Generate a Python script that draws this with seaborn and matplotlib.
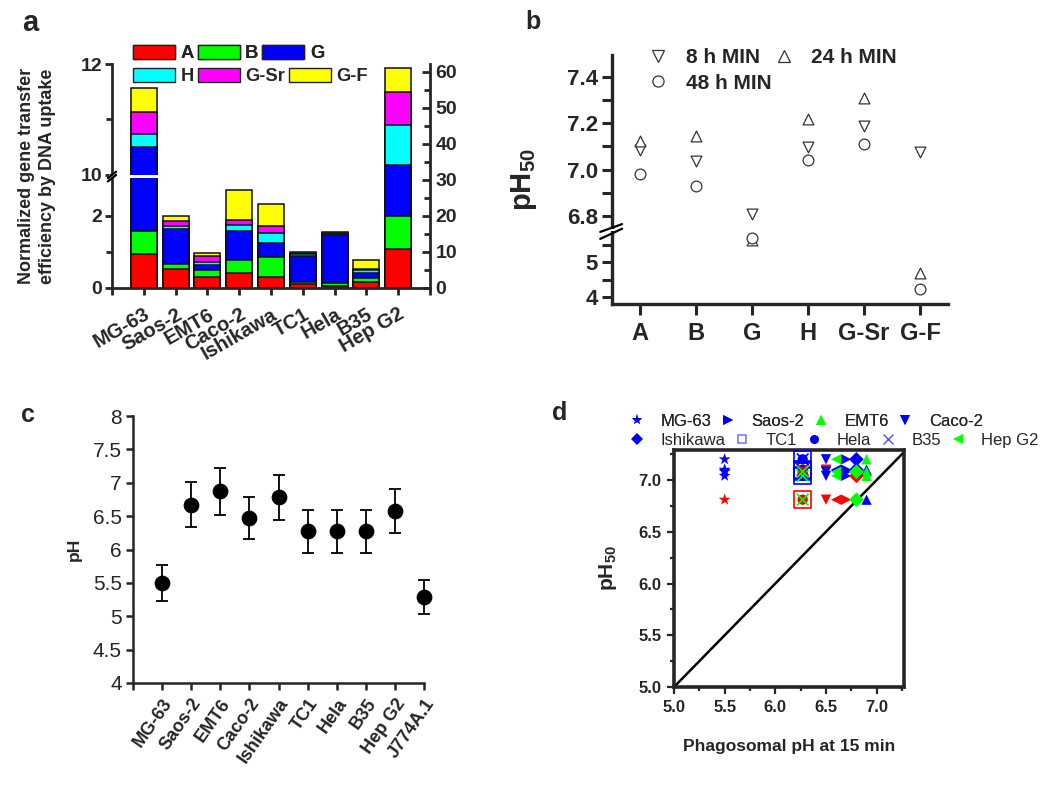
import numpy as np
import pandas as pd
import matplotlib
matplotlib.use('Agg')
import matplotlib.pyplot as plt
import seaborn as sns
from matplotlib.patches import Patch
from matplotlib.lines import Line2D
from matplotlib.ticker import MultipleLocator, FormatStrFormatter, FixedLocator

sns.set_style('ticks')
plt.rcParams['font.family'] = ['Liberation Sans', 'DejaVu Sans']
plt.rcParams['mathtext.fontset'] = 'custom'
plt.rcParams['mathtext.rm'] = 'Liberation Sans'
plt.rcParams['mathtext.bf'] = 'Liberation Sans:bold'

# ---------------- data ----------------
# panel a (segment heights, right-axis units)
cells_a = ['MG-63', 'Saos-2', 'EMT6', 'Caco-2', 'Ishikawa', 'TC1', 'Hela', 'B35', 'Hep G2']
particles = ['A', 'B', 'G', 'H', 'G-Sr', 'G-F']
seg_A = [9.4, 5.4, 3.0, 4.2, 3.0, 1.2, 0.65, 1.75, 10.9]
seg_B = [6.3, 1.2, 1.9, 3.6, 5.5, 0.55, 0.65, 0.95, 9.0]
seg_G = [23.4, 9.8, 1.4, 7.9, 4.1, 7.15, 13.3, 1.5, 14.3]
seg_H = [3.6, 0.7, 0.9, 1.7, 2.6, 0.5, 0.3, 0.8, 11.2]
seg_GSr = [6.1, 1.5, 1.7, 1.6, 1.9, 0.3, 0.3, 0.4, 8.9]
seg_GF = [6.6, 1.4, 0.7, 8.1, 6.3, 0.2, 0.3, 2.4, 6.9]
bar_colors = ['#ff0000', '#00ff00', '#0000ff', '#00ffff', '#ff00ff', '#ffff00']
left_tick_labels = ['0', '', '2', '10', '', '12']

# panel b
ph50_8h = [7.086, 7.036, 6.81, 7.097, 7.19, 7.076]
ph50_24h = [7.124, 7.146, 5.625, 7.22, 7.31, 4.68]
ph50_48h = [6.98, 6.93, 5.69, 7.04, 7.11, 4.22]
b_tick_vals = [4, 5, 6.8, 7.0, 7.2, 7.4]
b_tick_labels = ['4', '5', '6.8', '7.0', '7.2', '7.4']

# panel c
cells_c = ['MG-63', 'Saos-2', 'EMT6', 'Caco-2', 'Ishikawa', 'TC1', 'Hela', 'B35', 'Hep G2', 'J774A.1']
ph_c = [5.50, 6.67, 6.87, 6.47, 6.78, 6.27, 6.27, 6.27, 6.58, 5.29]
err_c = [0.27, 0.34, 0.35, 0.32, 0.34, 0.32, 0.32, 0.32, 0.33, 0.26]

# panel d
cells_d = ['MG-63', 'Saos-2', 'EMT6', 'Caco-2', 'Ishikawa', 'TC1', 'Hela', 'B35', 'Hep G2']
phago_d = [5.5, 6.7, 6.9, 6.5, 6.8, 6.27, 6.27, 6.27, 6.6]
ph50_d = [7.09, 7.04, 6.81, 7.10, 7.20, 7.08]   # A, B, G, H, G-Sr, G-F
color_codes_d = {
    'MG-63': 'bbrbbb', 'Saos-2': 'bbrbbb', 'EMT6': 'bgbbgg', 'Caco-2': 'bbrrbb',
    'Ishikawa': 'rrgbbg', 'TC1': 'bbrbbb', 'Hela': 'bbrbbb', 'B35': 'rggrbg',
    'Hep G2': 'bgrbgg'}
legend_colors_d = ['#0000ff', '#0000ff', '#00ff00', '#0000ff', '#0000ff', '#7a7aff', '#0000ff', '#5050ff', '#00ff00']
markers_d = ['*', '>', '^', 'v', 'D', 's', 'o', 'x', '<']
cmap_d = {'b': '#0000ff', 'r': '#ff0000', 'g': '#00ff00'}

W, H = 1050, 794
fig = plt.figure(figsize=(W / 100, H / 100), dpi=100)


def box(l, t, r, b):
    return [l / W, 1 - b / H, (r - l) / W, (b - t) / H]


def fp(x, y):
    return (x / W, 1 - y / H)


# ================= panel a =================
ax_a = fig.add_axes(box(112, 64, 430, 288))
segs = np.array([seg_A, seg_B, seg_G, seg_H, seg_GSr, seg_GF])
cum = np.cumsum(segs, axis=0)
for j in reversed(range(len(particles))):
    sns.barplot(x=cells_a, y=cum[j], color=bar_colors[j], saturation=1,
                edgecolor='#111111', linewidth=1.1, width=0.82, ax=ax_a, zorder=2)
ax_a.set_xlim(-1, 9)
top_a = 62.2
ax_a.set_ylim(0, top_a)
left_tick_pos = [0, 10, 20, 31.4, 46.8, 62.2]
ax_a.set_yticks([left_tick_pos[i] for i in (0, 2, 3, 5)],
                [left_tick_labels[i] for i in (0, 2, 3, 5)])
ax_a.yaxis.set_minor_locator(FixedLocator([left_tick_pos[1], left_tick_pos[4]]))
ax_a.set_xticks(range(-1, 10), [''] + cells_a + [''])
for lab in ax_a.get_xticklabels():
    lab.set_rotation(30)
    lab.set_ha('right')
    lab.set_rotation_mode('anchor')
    lab.set_fontweight('bold')
    lab.set_fontsize(14.5)
for lab in ax_a.get_yticklabels():
    lab.set_fontweight('bold')
    lab.set_fontsize(14)
ax_a.tick_params(axis='x', which='major', direction='out', length=5, width=2, pad=7)
ax_a.tick_params(axis='y', which='major', direction='out', length=5, width=2, pad=2)
ax_a.tick_params(axis='y', which='minor', direction='out', length=4, width=2)
ax_a.set_xlabel('')
ax_a.set_ylabel('Normalized gene transfer\nefficiency by DNA uptake', fontsize=13,
                fontweight='bold', labelpad=18, linespacing=1.25)
for s in ['top', 'right']:
    ax_a.spines[s].set_visible(False)
for s in ['left', 'bottom']:
    ax_a.spines[s].set_linewidth(2)
# axis break
ax_a.fill_between([-1.08, 0.44], 30.5, 31.4, color='white', zorder=6, clip_on=False, lw=0)
for yb in (30.5, 31.4):
    ax_a.plot([-1.13, -0.87], [yb - 0.9, yb + 0.9], color='black', lw=1.6, zorder=7, clip_on=False)

ax_r = ax_a.twinx()
ax_r.set_ylim(0, top_a)
ax_r.yaxis.set_major_locator(MultipleLocator(10))
ax_r.yaxis.set_minor_locator(MultipleLocator(5))
ax_r.tick_params(axis='y', which='major', direction='in', length=6, width=2, labelsize=14, pad=4)
ax_r.tick_params(axis='y', which='minor', direction='in', length=4, width=2)
for lab in ax_r.get_yticklabels():
    lab.set_fontweight('bold')
for s in ['top', 'left', 'bottom']:
    ax_r.spines[s].set_visible(False)
ax_r.spines['right'].set_linewidth(2)

handles_a = [Patch(facecolor=c, edgecolor='#222222', linewidth=1.0) for c in bar_colors]
leg_a_kw = dict(ncol=3, loc='upper left', frameon=False, borderpad=0, borderaxespad=0,
                handlelength=2.3, handleheight=0.8, handletextpad=0.3, columnspacing=0.2,
                prop={'weight': 'bold', 'size': 13.2})
la1 = fig.legend(handles_a[:3], particles[:3], bbox_to_anchor=fp(133, 45), **leg_a_kw)
fig.add_artist(la1)
fig.legend(handles_a[3:], particles[3:], bbox_to_anchor=fp(133, 68), **leg_a_kw)

fig.text(*fp(30, 23), 'a', fontsize=21, fontweight='bold', ha='center', va='center')

# ================= panel b =================
vs_b = [0, 5.9, 6.74, 10]
us_b = [-133, 73.5, 74.1, 830.4]


def fwd_b(v):
    return np.interp(v, vs_b, us_b)


def inv_b(u):
    return np.interp(u, us_b, vs_b)


ax_b = fig.add_axes(box(612, 55, 948, 304))
b_markers = ['v', '^', 'o']
b_labels = ['8 h MIN', '24 h MIN', '48 h MIN']
for vals, mk in zip([ph50_8h, ph50_24h, ph50_48h], b_markers):
    sns.scatterplot(x=particles, y=vals, marker=mk, s=60, color='white',
                    edgecolor='#333333', linewidth=0.9, ax=ax_b, zorder=3)
ax_b.set_yscale('function', functions=(fwd_b, inv_b))
ax_b.set_ylim(3.8, 7.494)
ax_b.set_xlim(-0.5, 5.5)
ax_b.yaxis.set_major_locator(FixedLocator(b_tick_vals))
ax_b.yaxis.set_major_formatter(matplotlib.ticker.FixedFormatter(b_tick_labels))
ax_b.yaxis.set_minor_locator(FixedLocator([4.5, 5.5, 6.9, 7.1, 7.3, 7.5]))
ax_b.set_xticks(range(6), particles)
ax_b.tick_params(axis='y', which='both', direction='out', length=7, width=2.2, labelsize=16, pad=3)
ax_b.tick_params(axis='x', which='major', direction='out', length=8, width=2.2, labelsize=17, pad=5)
for lab in ax_b.get_xticklabels() + ax_b.get_yticklabels():
    lab.set_fontweight('bold')
for s in ['top', 'right']:
    ax_b.spines[s].set_visible(False)
for s in ['left', 'bottom']:
    ax_b.spines[s].set_linewidth(2.4)
ax_b.set_ylabel(r'$\mathbf{pH_{50}}$', fontsize=21, labelpad=20)
ax_b.set_xlabel('')
# break marks
ax_b.fill_between([-0.56, -0.44], 5.9, 6.745, color='white', zorder=6, clip_on=False, lw=0)
bk = ax_b.get_yaxis_transform()
ax_b.plot([-0.035, 0.03], [5.66, 6.745], color='black', lw=1.6, transform=bk, clip_on=False, zorder=7)
ax_b.plot([-0.035, 0.03], [5.86, 6.765], color='black', lw=1.6, transform=bk, clip_on=False, zorder=7)

handles_b = [Line2D([], [], marker=m, ls='none', markersize=8, markerfacecolor='white',
                    markeredgecolor='#333333', markeredgewidth=0.9) for m in b_markers]
ordb = [0, 2, 1]
fig.legend([handles_b[i] for i in ordb], [b_labels[i] for i in ordb], ncol=2,
           loc='upper left', bbox_to_anchor=fp(648, 48), frameon=False, borderpad=0,
           borderaxespad=0, handlelength=1.0, handletextpad=0.8, columnspacing=0.1,
           labelspacing=0.32, prop={'weight': 'bold', 'size': 15})
fig.text(*fp(533, 22), 'b', fontsize=18, fontweight='bold', ha='center', va='center')

# ================= panel c =================
ax_c = fig.add_axes(box(133, 416, 424, 683))
sns.scatterplot(x=np.arange(len(cells_c)), y=ph_c, color='black', s=110, ax=ax_c,
                zorder=4, clip_on=False, edgecolor='black')
ax_c.errorbar(np.arange(len(cells_c)), ph_c, yerr=err_c, fmt='none', ecolor='black',
              elinewidth=1.3, capsize=4.5, capthick=1.3, zorder=3, clip_on=False)
ax_c.set_xlim(-1, 9)
ax_c.set_ylim(4, 8)
ax_c.yaxis.set_major_locator(MultipleLocator(0.5))
ax_c.yaxis.set_major_formatter(matplotlib.ticker.FuncFormatter(lambda v, p: ('%g' % v)))
ax_c.set_xticks(range(-1, 10), [''] + cells_c)
for lab in ax_c.get_xticklabels():
    lab.set_rotation(55)
    lab.set_ha('right')
    lab.set_rotation_mode('anchor')
    lab.set_fontweight('bold')
    lab.set_fontsize(13)
ax_c.tick_params(axis='y', direction='out', length=5, width=1.8, labelsize=15, pad=3)
ax_c.tick_params(axis='x', direction='out', length=5, width=1.8, pad=4)
for s in ['top', 'right']:
    ax_c.spines[s].set_visible(False)
for s in ['left', 'bottom']:
    ax_c.spines[s].set_linewidth(1.8)
ax_c.set_ylabel('pH', fontsize=12.5, fontweight='bold', labelpad=8)
fig.text(*fp(28, 415), 'c', fontsize=18, fontweight='bold', ha='center', va='center')

# ================= panel d =================
ax_d = fig.add_axes(box(674, 450, 904, 687))
for i, cell in enumerate(cells_d):
    cols = [cmap_d[c] for c in color_codes_d[cell]]
    mk = markers_d[i]
    if mk == 's':
        sns.scatterplot(x=[phago_d[i]] * 6, y=ph50_d, marker='s', s=150, facecolor='none',
                        edgecolor=cols, linewidth=1.2, ax=ax_d, zorder=3)
    elif mk == 'x':
        sns.scatterplot(x=[phago_d[i]] * 6, y=ph50_d, marker='x', s=70, color=cols,
                        linewidth=1.2, ax=ax_d, zorder=4)
    else:
        size = 80 if mk == '*' else 55
        sns.scatterplot(x=[phago_d[i]] * 6, y=ph50_d, marker=mk, s=size, c=cols,
                        linewidth=0, ax=ax_d, zorder=3)
ax_d.axline((5.0, 5.0), slope=1, color='black', lw=1.8, zorder=2)
ax_d.set_xlim(5.0, 7.27)
ax_d.set_ylim(5.0, 7.29)
for axis in (ax_d.xaxis, ax_d.yaxis):
    axis.set_major_locator(MultipleLocator(0.5))
    axis.set_minor_locator(MultipleLocator(0.25))
    axis.set_major_formatter(FormatStrFormatter('%.1f'))
ax_d.tick_params(which='major', direction='out', length=5, width=1.6, labelsize=12, pad=4)
ax_d.tick_params(which='minor', direction='out', length=3, width=1.6)
for lab in ax_d.get_xticklabels() + ax_d.get_yticklabels():
    lab.set_fontweight('bold')
for s in ax_d.spines.values():
    s.set_linewidth(2.6)
ax_d.set_xlabel('Phagosomal pH at 15 min', fontsize=12.5, fontweight='bold', labelpad=18)
ax_d.set_ylabel(r'$\mathbf{pH_{50}}$', fontsize=15, labelpad=14)


def d_handle(i):
    mk = markers_d[i]
    if mk == 's':
        return Line2D([], [], marker='s', ls='none', markersize=6, markerfacecolor='none',
                      markeredgecolor=legend_colors_d[i], markeredgewidth=1.2)
    if mk == 'x':
        return Line2D([], [], marker='x', ls='none', markersize=7, markeredgecolor=legend_colors_d[i],
                      markeredgewidth=1.0)
    return Line2D([], [], marker=mk, ls='none', markersize=8 if mk == '*' else 6.5,
                  markerfacecolor=legend_colors_d[i], markeredgewidth=0)


leg_kw = dict(loc='upper left', frameon=False, borderpad=0, borderaxespad=0, handlelength=1.0,
              handletextpad=0.9, columnspacing=0.5, prop={'size': 12})
leg1 = fig.legend([d_handle(i) for i in range(4)], cells_d[:4], ncol=4,
                  bbox_to_anchor=fp(629, 414), **leg_kw)
fig.add_artist(leg1)
fig.legend([d_handle(i) for i in range(4, 9)], cells_d[4:], ncol=5,
           bbox_to_anchor=fp(629, 433), **leg_kw)
fig.text(*fp(560, 413), 'd', fontsize=18, fontweight='bold', ha='center', va='center')

fig.savefig('out.png', dpi=100)
